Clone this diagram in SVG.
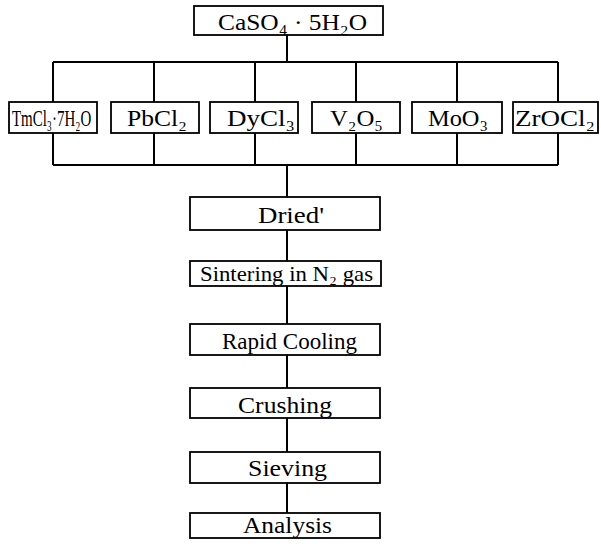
<svg xmlns="http://www.w3.org/2000/svg" width="601" height="548" viewBox="0 0 601 548">
<style>
.box{fill:#fff;stroke:#000;stroke-width:1.8}
.ln{fill:none;stroke:#000;stroke-width:2}
text{font-family:"Liberation Serif","Times New Roman",serif;font-size:23px;fill:#000}
</style>
<rect width="601" height="548" fill="#fff"/>
<g id="connectors">
<path class="ln" d="M287 35V62M53 62H558M53 62V102M154 62V102M255 62V102M356 62V102M457 62V102M558 62V102"/>
<path class="ln" d="M53 133V165M154 133V165M255 133V165M356 133V165M457 133V165M558 133V165M53 165H558M287 165V197"/>
<path class="ln" d="M287 230V261M287 286V324M287 355V388M287 418V452M287 483V513"/>
</g>
<g id="n-caso4"><rect class="box" x="194" y="6" width="189" height="29"/><text x="218" y="30" textLength="149" lengthAdjust="spacingAndGlyphs">CaSO₄ · 5H₂O</text></g>
<g id="n-tmcl3"><rect class="box" x="9" y="102" width="88" height="31"/><text transform="translate(12 126) scale(0.65 1)" x="0" y="0">TmCl₃·7H₂O</text></g>
<g id="n-pbcl2"><rect class="box" x="111" y="102" width="88" height="31"/><text x="127" y="126" textLength="60" lengthAdjust="spacingAndGlyphs">PbCl₂</text></g>
<g id="n-dycl3"><rect class="box" x="210" y="102" width="88" height="31"/><text x="227" y="126" textLength="68" lengthAdjust="spacingAndGlyphs">DyCl₃</text></g>
<g id="n-v2o5"><rect class="box" x="312" y="102" width="88" height="31"/><text x="330" y="126" textLength="53" lengthAdjust="spacingAndGlyphs">V₂O₅</text></g>
<g id="n-moo3"><rect class="box" x="412" y="102" width="90" height="31"/><text x="428" y="126" textLength="60" lengthAdjust="spacingAndGlyphs">MoO₃</text></g>
<g id="n-zrocl2"><rect class="box" x="513" y="102" width="85" height="31"/><text x="515" y="126" textLength="80" lengthAdjust="spacingAndGlyphs">ZrOCl₂</text></g>
<g id="n-dried"><rect class="box" x="190" y="197" width="190" height="33"/><text x="258" y="223" textLength="66" lengthAdjust="spacingAndGlyphs">Dried'</text></g>
<g id="n-sinter"><rect class="box" x="190" y="261" width="191" height="25"/><text x="200" y="281" textLength="173" lengthAdjust="spacingAndGlyphs" style="font-size:21px">Sintering in N₂ gas</text></g>
<g id="n-rapid"><rect class="box" x="190" y="324" width="190" height="31"/><text x="222" y="349" textLength="135" lengthAdjust="spacingAndGlyphs">Rapid Cooling</text></g>
<g id="n-crush"><rect class="box" x="190" y="388" width="190" height="30"/><text x="238" y="413" textLength="94" lengthAdjust="spacingAndGlyphs">Crushing</text></g>
<g id="n-sieve"><rect class="box" x="190" y="452" width="190" height="31"/><text x="248" y="476" textLength="79" lengthAdjust="spacingAndGlyphs">Sieving</text></g>
<g id="n-analysis"><rect class="box" x="190" y="513" width="190" height="25"/><text x="243" y="533" textLength="89" lengthAdjust="spacingAndGlyphs">Analysis</text></g>
</svg>
